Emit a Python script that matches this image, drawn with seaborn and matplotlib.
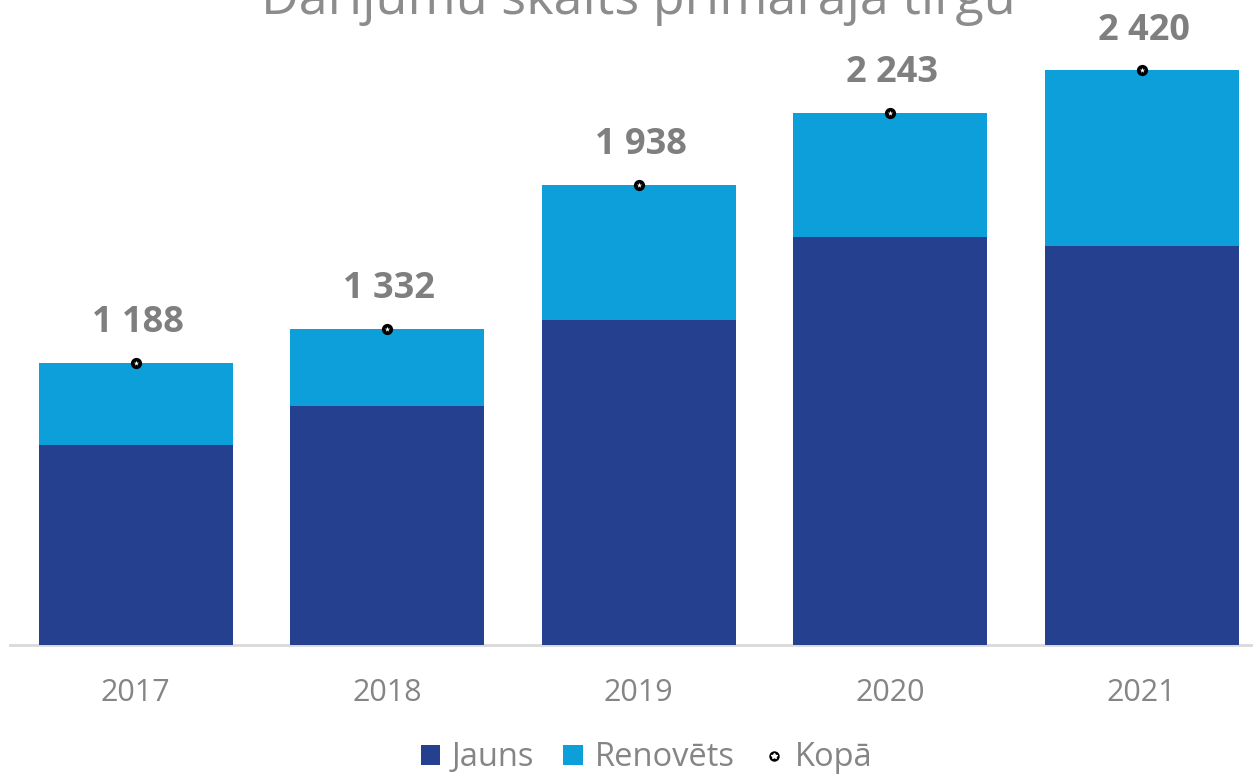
import matplotlib
matplotlib.use("Agg")
import matplotlib.pyplot as plt
import seaborn as sns
import pandas as pd
import numpy as np
from matplotlib.patches import Patch
from matplotlib.lines import Line2D

years = ["2017", "2018", "2019", "2020", "2021"]
jauns = [842, 1007, 1369, 1719, 1681]
renovets = [346, 325, 569, 524, 739]
kopa = [1188, 1332, 1938, 2243, 2420]

C_DARK = "#25408E"
C_LIGHT = "#0D9FDA"
C_TEXT = "#7F7F7F"
C_TICK = "#858585"

sns.set_theme(style="white")
plt.rcParams["font.family"] = ["Open Sans", "DejaVu Sans"]

df = pd.DataFrame({"year": years, "jauns": jauns, "renovets": renovets, "kopa": kopa})
df["stack"] = df["jauns"] + df["renovets"]

W, H = 1253, 774
fig = plt.figure(figsize=(W / 100, H / 100), dpi=100)
ax_left, ax_right = 10, 1253
ax_bottom, ax_top = 645, 40
ax = fig.add_axes([ax_left / W, (H - ax_bottom) / H, (ax_right - ax_left) / W, (ax_bottom - ax_top) / H])

sns.barplot(data=df, x="year", y="stack", color=C_LIGHT, width=0.77, saturation=1, ax=ax,
            zorder=2, linewidth=0, edgecolor="none")
sns.barplot(data=df, x="year", y="jauns", color=C_DARK, width=0.77, saturation=1, ax=ax,
            zorder=3, linewidth=0, edgecolor="none")

xs = np.arange(len(years))
ax.scatter(xs, df["kopa"], s=50, color="black", zorder=5)
ax.scatter(xs, df["kopa"], s=16, marker="*", color="white", linewidths=0, zorder=6)

px_per_unit = 0.2374
ax.set_ylim(0, (ax_bottom - ax_top) / px_per_unit)
ax.set_xlim(-0.5, -0.5 + (ax_right - ax_left) / 251.5)

for x, v in zip(xs, df["kopa"]):
    lbl = f"{v:,}".replace(",", " ")
    ax.annotate(lbl, (x, v), xytext=(1.5, 22), textcoords="offset points",
                ha="center", va="baseline", fontsize=26, fontweight="bold", color=C_TEXT)

ax.set_xlabel("")
ax.set_ylabel("")
ax.set_yticks([])
for s in ["top", "right", "left"]:
    ax.spines[s].set_visible(False)
ax.spines["bottom"].set_color("#D9D9D9")
ax.spines["bottom"].set_linewidth(2)
ax.spines["bottom"].set_zorder(1)
ax.tick_params(axis="x", length=0, labelsize=22, labelcolor=C_TICK, pad=24)

fig.text(0.5 + 12 / W, 1 - 14 / H, "Darījumu skaits primārajā tirgū", ha="center", va="baseline",
         fontsize=37.5, color="#8C8C8C")

h1 = Patch(facecolor=C_DARK, edgecolor="none")
h2 = Patch(facecolor=C_LIGHT, edgecolor="none")
h3a = Line2D([], [], marker="o", color="black", linestyle="none", markersize=6.5)
h3b = Line2D([], [], marker="*", color="white", linestyle="none", markersize=4)
leg = fig.legend([h1, h2, (h3a, h3b)], ["Jauns", "Renovēts", "Kopā"], loc="center",
                 bbox_to_anchor=(0.5 + 20 / W, 1 - 758 / H), ncol=3, frameon=False, fontsize=23.5,
                 handlelength=0.6, handleheight=0.6, handletextpad=0.35, columnspacing=0.9)
for t in leg.get_texts():
    t.set_color(C_TICK)

fig.savefig("out.png", dpi=100)
